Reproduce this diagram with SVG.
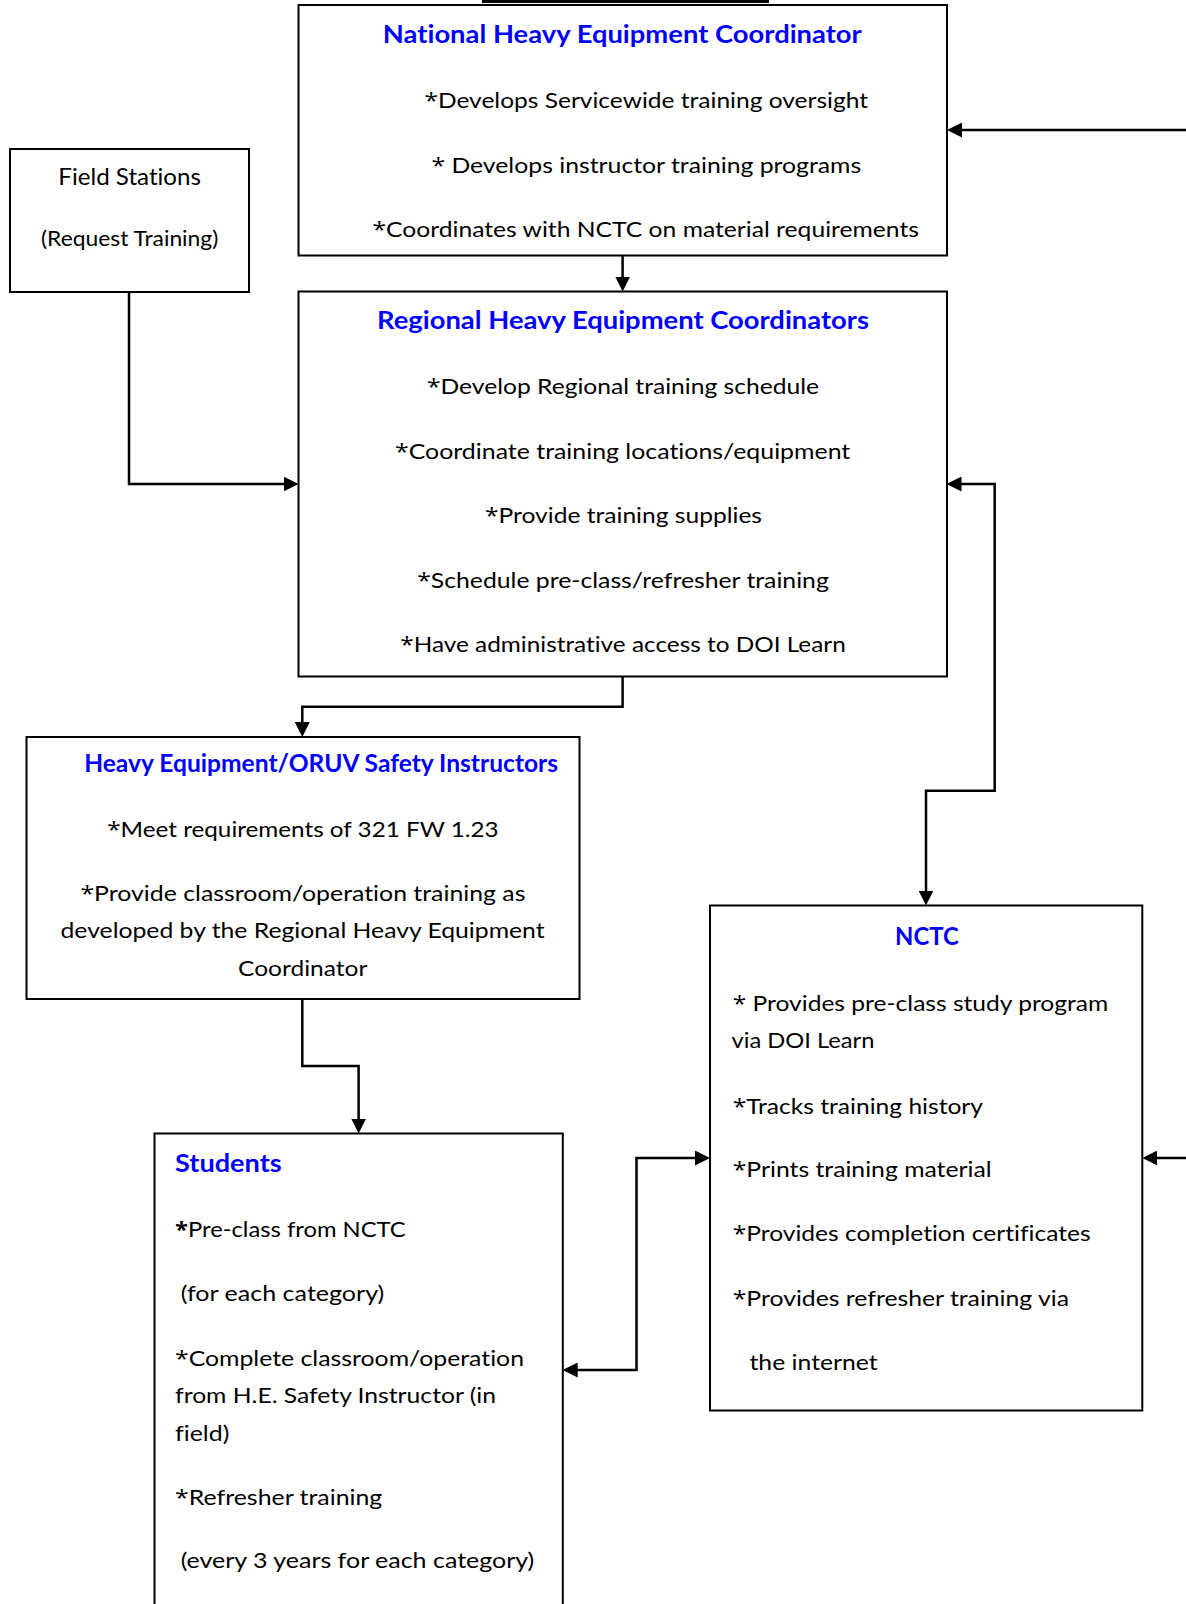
<svg xmlns="http://www.w3.org/2000/svg" width="1186" height="1604" viewBox="0 0 1186 1604">
<style>
text{font-variant-ligatures:none}
.box{fill:#fff;stroke:#000;stroke-width:2}
.t{font-family:Lato,"Liberation Sans",sans-serif;font-size:22px;fill:#000}
.n{font-family:Lato,"Liberation Sans",sans-serif;font-size:21px;fill:#000}
.h{font-family:Lato,"Liberation Sans",sans-serif;font-size:25px;font-weight:bold;fill:#0000ff}
.a{font-family:"Open Sans","Liberation Sans",sans-serif}
.c{fill:none;stroke:#000;stroke-width:2.5}
</style>
<defs>
<marker id="ah" markerUnits="userSpaceOnUse" markerWidth="15" markerHeight="15" viewBox="0 0 15 15" refX="3" refY="7.5" orient="auto-start-reverse">
<path d="M0,0 L15,7.5 L0,15 z" fill="#000"/>
</marker>
</defs>
<rect x="482" y="0" width="287" height="3" fill="#000"/>
<g id="connectors">
<path class="c" d="M622.6,256 V279.5" marker-end="url(#ah)"/>
<path class="c" d="M129,292 V484 H286.5" marker-end="url(#ah)"/>
<path class="c" d="M622.6,676.5 V706.7 H302.3 V725" marker-end="url(#ah)"/>
<path class="c" d="M958.5,484 H994.7 V790.7 H926 V893.5" marker-start="url(#ah)" marker-end="url(#ah)"/>
<path class="c" d="M302.3,999 V1066 H358.6 V1121.5" marker-end="url(#ah)"/>
<path class="c" d="M574.7,1370 H636.5 V1158 H698" marker-start="url(#ah)" marker-end="url(#ah)"/>
<path class="c" d="M1186,130 H959" marker-end="url(#ah)"/>
<path class="c" d="M1186,1158 H1154.3" marker-end="url(#ah)"/>
</g>
<g id="national">
<rect class="box" x="298.5" y="5" width="648.5" height="250.5"/>
<text class="h" x="382.8" y="43.3" textLength="479" lengthAdjust="spacingAndGlyphs">National Heavy Equipment Coordinator</text>
<text class="n" x="424.4" y="108.3" textLength="443.6" lengthAdjust="spacingAndGlyphs"><tspan class="a">*</tspan>Develops Servicewide training oversight</text>
<text class="n" x="431.4" y="172.7" textLength="429.8" lengthAdjust="spacingAndGlyphs"><tspan class="a">*</tspan> Develops instructor training programs</text>
<text class="n" x="372.4" y="237.3" textLength="546.6" lengthAdjust="spacingAndGlyphs"><tspan class="a">*</tspan>Coordinates with NCTC on material requirements</text>
</g>
<g id="field">
<rect class="box" x="10" y="149" width="239" height="143"/>
<text class="t" style="font-size:24px" x="58.3" y="185" textLength="142.7" lengthAdjust="spacingAndGlyphs">Field Stations</text>
<text class="n" x="41" y="245.5" textLength="177.3" lengthAdjust="spacingAndGlyphs">(Request Training)</text>
</g>
<g id="regional">
<rect class="box" x="298.5" y="291.5" width="648.5" height="385"/>
<text class="h" x="377" y="329.3" textLength="492" lengthAdjust="spacingAndGlyphs">Regional Heavy Equipment Coordinators</text>
<text class="n" x="427" y="394.3" textLength="392" lengthAdjust="spacingAndGlyphs"><tspan class="a">*</tspan>Develop Regional training schedule</text>
<text class="n" x="395" y="459.3" textLength="455.3" lengthAdjust="spacingAndGlyphs"><tspan class="a">*</tspan>Coordinate training locations/equipment</text>
<text class="n" x="485" y="523.3" textLength="277" lengthAdjust="spacingAndGlyphs"><tspan class="a">*</tspan>Provide training supplies</text>
<text class="n" x="417.2" y="587.7" textLength="411.6" lengthAdjust="spacingAndGlyphs"><tspan class="a">*</tspan>Schedule pre-class/refresher training</text>
<text class="n" x="400.3" y="651.7" textLength="445.5" lengthAdjust="spacingAndGlyphs"><tspan class="a">*</tspan>Have administrative access to DOI Learn</text>
</g>
<g id="instructors">
<rect class="box" x="26.5" y="737" width="553" height="262"/>
<text class="h" style="font-size:24.5px" x="84.2" y="772.3" textLength="473.8" lengthAdjust="spacingAndGlyphs">Heavy Equipment/ORUV Safety Instructors</text>
<text class="t" x="107.2" y="836.7" textLength="391.5" lengthAdjust="spacingAndGlyphs"><tspan class="a">*</tspan>Meet requirements of 321 FW 1.23</text>
<text class="t" x="80.4" y="900.7" textLength="445.1" lengthAdjust="spacingAndGlyphs"><tspan class="a">*</tspan>Provide classroom/operation training as</text>
<text class="t" x="60.5" y="938.3" textLength="484.1" lengthAdjust="spacingAndGlyphs">developed by the Regional Heavy Equipment</text>
<text class="t" x="238" y="975.7" textLength="129.4" lengthAdjust="spacingAndGlyphs">Coordinator</text>
</g>
<g id="nctc">
<rect class="box" x="710" y="905.5" width="432.3" height="505"/>
<text class="h" x="895" y="944.5" textLength="63.7" lengthAdjust="spacingAndGlyphs">NCTC</text>
<text class="t" x="732.7" y="1011" textLength="375.5" lengthAdjust="spacingAndGlyphs"><tspan class="a">*</tspan> Provides pre-class study program</text>
<text class="t" x="731.5" y="1047.8" textLength="143" lengthAdjust="spacingAndGlyphs">via DOI Learn</text>
<text class="t" x="732.7" y="1113.6" textLength="250.3" lengthAdjust="spacingAndGlyphs"><tspan class="a">*</tspan>Tracks training history</text>
<text class="t" x="732.7" y="1177.3" textLength="258.9" lengthAdjust="spacingAndGlyphs"><tspan class="a">*</tspan>Prints training material</text>
<text class="t" x="732.7" y="1241.3" textLength="357.9" lengthAdjust="spacingAndGlyphs"><tspan class="a">*</tspan>Provides completion certificates</text>
<text class="t" x="732.7" y="1306" textLength="336.3" lengthAdjust="spacingAndGlyphs"><tspan class="a">*</tspan>Provides refresher training via</text>
<text class="t" x="749.5" y="1370" textLength="128.2" lengthAdjust="spacingAndGlyphs">the internet</text>
</g>
<g id="students">
<rect class="box" x="154.5" y="1133.5" width="408.3" height="500"/>
<text class="h" x="175" y="1171.7" textLength="106.7" lengthAdjust="spacingAndGlyphs">Students</text>
<text class="t" x="175" y="1236.7" textLength="230.7" lengthAdjust="spacingAndGlyphs"><tspan class="a" font-weight="bold">*</tspan>Pre-class from NCTC</text>
<text class="t" x="180.7" y="1300.7" textLength="203.6" lengthAdjust="spacingAndGlyphs">(for each category)</text>
<text class="t" x="175" y="1366" textLength="349" lengthAdjust="spacingAndGlyphs"><tspan class="a">*</tspan>Complete classroom/operation</text>
<text class="t" x="175" y="1403.3" textLength="321" lengthAdjust="spacingAndGlyphs">from H.E. Safety Instructor (in</text>
<text class="t" x="175" y="1440.7" textLength="54.3" lengthAdjust="spacingAndGlyphs">field)</text>
<text class="t" x="175" y="1505" textLength="207.3" lengthAdjust="spacingAndGlyphs"><tspan class="a">*</tspan>Refresher training</text>
<text class="t" x="180.7" y="1568.3" textLength="353.6" lengthAdjust="spacingAndGlyphs">(every 3 years for each category)</text>
</g>
</svg>
